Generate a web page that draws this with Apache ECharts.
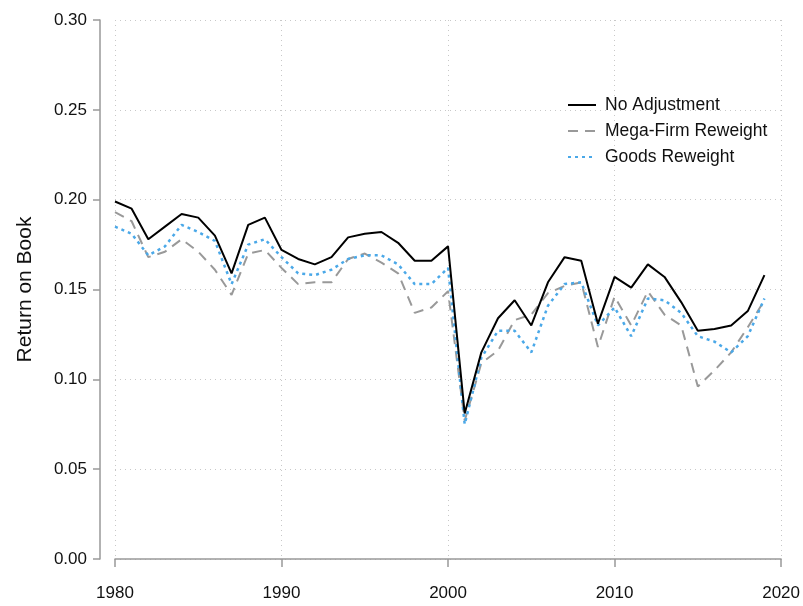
<!DOCTYPE html>
<html>
<head>
<meta charset="utf-8">
<title>Return on Book</title>
<script src="https://cdn.jsdelivr.net/npm/echarts@6/dist/echarts.min.js"></script>
<style>
  html, body { margin: 0; padding: 0; background: #fff; }
  #chart { width: 803px; height: 606px; }
</style>
</head>
<body>
<div id="chart"></div>
<script>
// years 1980 - 2019
var years = [];
for (var y = 1980; y <= 2019; y++) years.push(y);

var noAdjustment = [
  0.199, 0.195, 0.178, 0.185, 0.192, 0.190, 0.180, 0.159, 0.186, 0.190,
  0.172, 0.167, 0.164, 0.168, 0.179, 0.181, 0.182, 0.176, 0.166, 0.166,
  0.174, 0.081, 0.115, 0.134, 0.144, 0.130, 0.154, 0.168, 0.166, 0.131,
  0.157, 0.151, 0.164, 0.157, 0.143, 0.127, 0.128, 0.130, 0.138, 0.158
];
var megaFirm = [
  0.193, 0.188, 0.168, 0.171, 0.178, 0.171, 0.161, 0.147, 0.170, 0.172,
  0.162, 0.153, 0.154, 0.154, 0.167, 0.170, 0.165, 0.159, 0.137, 0.140,
  0.149, 0.077, 0.109, 0.116, 0.133, 0.136, 0.148, 0.152, 0.154, 0.118,
  0.146, 0.130, 0.149, 0.136, 0.130, 0.096, 0.105, 0.115, 0.129, 0.144
];
var goodsReweight = [
  0.185, 0.181, 0.169, 0.174, 0.186, 0.182, 0.177, 0.153, 0.175, 0.178,
  0.168, 0.159, 0.158, 0.161, 0.167, 0.169, 0.169, 0.164, 0.153, 0.153,
  0.162, 0.075, 0.112, 0.127, 0.127, 0.115, 0.141, 0.153, 0.154, 0.130,
  0.140, 0.124, 0.145, 0.144, 0.137, 0.124, 0.121, 0.115, 0.124, 0.145
];

var font = "'Liberation Sans', Arial, Helvetica, sans-serif";
var axisGray = "#999";
var gridStyle = { color: "#c8c8c8", type: [1, 4], width: 1 };

function pairs(vals) {
  return vals.map(function (v, i) { return [years[i], v]; });
}

var chart = echarts.init(document.getElementById("chart"));
chart.setOption({
  animation: false,
  textStyle: { fontFamily: font },
  grid: { left: 115, right: 19, top: 20, bottom: 47 },
  legend: {
    orient: "vertical",
    left: 562,
    top: 91,
    itemWidth: 28,
    itemHeight: 10,
    itemGap: 8,
    itemStyle: { opacity: 0 },
    textStyle: { fontSize: 17.5, color: "#111", fontFamily: font, padding: [0, 0, 0, 4] },
    data: ["No Adjustment", "Mega-Firm Reweight", "Goods Reweight"]
  },
  xAxis: {
    type: "value",
    min: 1980,
    max: 2020,
    interval: 10,
    offset: 14,
    axisLine: { show: true, lineStyle: { color: axisGray, width: 1.5 } },
    axisTick: { show: true, length: 8, lineStyle: { color: axisGray, width: 1.5 } },
    axisLabel: {
      fontSize: 17, color: "#111", margin: 12, fontFamily: font,
      formatter: function (v) { return String(v); }
    },
    splitLine: { show: true, lineStyle: gridStyle }
  },
  yAxis: {
    type: "value",
    min: 0,
    max: 0.3,
    interval: 0.05,
    offset: 15,
    name: "Return on Book",
    nameLocation: "middle",
    nameGap: 64,
    nameTextStyle: { fontSize: 21, color: "#111", fontFamily: font },
    axisLine: { show: true, lineStyle: { color: axisGray, width: 1.5 } },
    axisTick: { show: true, length: 7, lineStyle: { color: axisGray, width: 1.5 } },
    axisLabel: {
      fontSize: 17, color: "#111", margin: 13, fontFamily: font,
      formatter: function (v) { return v.toFixed(2); }
    },
    splitLine: { show: true, lineStyle: gridStyle }
  },
  series: [
    {
      name: "No Adjustment",
      type: "line",
      symbol: "none",
      data: pairs(noAdjustment),
      lineStyle: { color: "#000", width: 2 },
      itemStyle: { color: "#000" },
      z: 4
    },
    {
      name: "Mega-Firm Reweight",
      type: "line",
      symbol: "none",
      data: pairs(megaFirm),
      lineStyle: { color: "#999", width: 2, type: [10, 7] },
      itemStyle: { color: "#999" },
      z: 2
    },
    {
      name: "Goods Reweight",
      type: "line",
      symbol: "none",
      data: pairs(goodsReweight),
      lineStyle: { color: "#4aa8e8", width: 2.5, type: [3, 4] },
      itemStyle: { color: "#4aa8e8" },
      z: 3
    }
  ]
});
window.addEventListener("resize", function () {
  chart.resize();
});
</script>
</body>
</html>
